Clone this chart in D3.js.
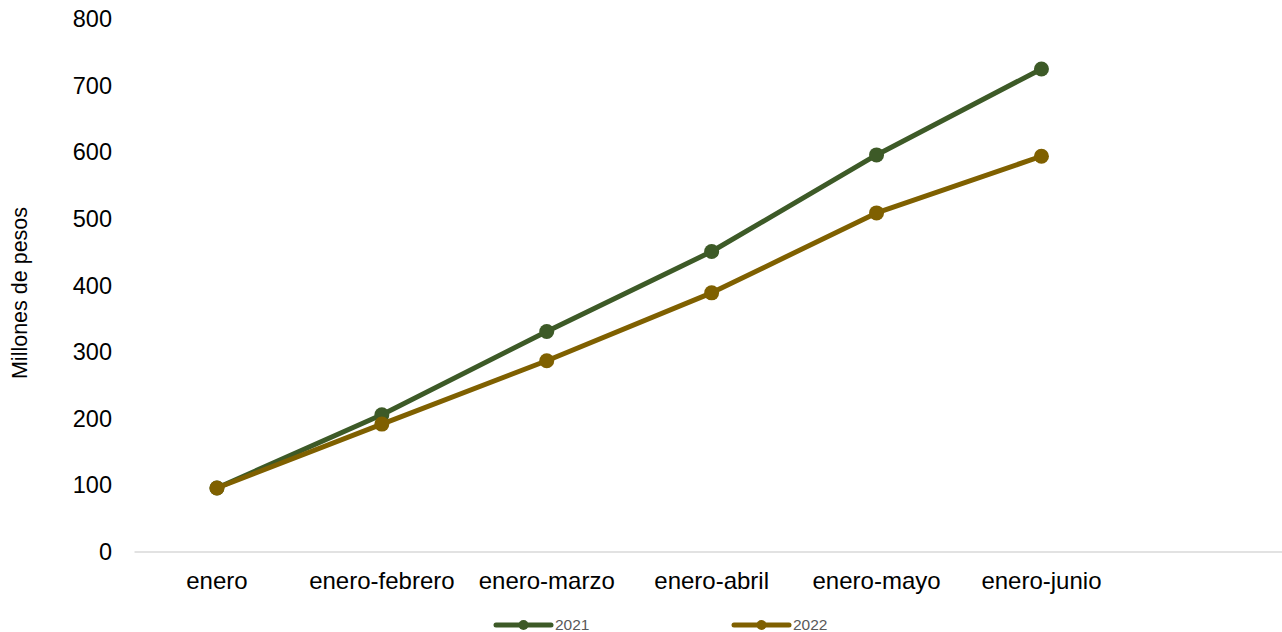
<!DOCTYPE html>
<html>
<head>
<meta charset="utf-8">
<script src="https://cdn.jsdelivr.net/npm/d3@7"></script>
<style>
  html, body { margin: 0; padding: 0; background: #fff; }
  svg { display: block; font-family: "Liberation Sans", Arial, sans-serif; }
</style>
</head>
<body>
<svg id="chart" width="1282" height="632"></svg>
<script>
const categories = ["enero", "enero-febrero", "enero-marzo", "enero-abril", "enero-mayo", "enero-junio"];
const series2021 = [96, 206, 331, 451, 596, 725];
const series2022 = [96, 192, 287, 389, 509, 594];
const seriesNames = ["2021", "2022"];
const seriesColors = ["#3d5a27", "#7f6000"];
const yTicks = [0, 100, 200, 300, 400, 500, 600, 700, 800];

const svg = d3.select("#chart");
const W = 1282, H = 632;
const plotLeft = 134.5, plotTop = 19, plotBottom = 552;
const step = 164.9;

const x = d3.scaleBand().domain(categories).range([plotLeft, plotLeft + step * categories.length]).padding(0);
const y = d3.scaleLinear().domain([0, 800]).range([plotBottom, plotTop]);

// baseline
svg.append("line")
  .attr("x1", plotLeft).attr("x2", W)
  .attr("y1", y(0)).attr("y2", y(0))
  .attr("stroke", "#d9d9d9").attr("stroke-width", 1.5);

// y axis labels
const yAxis = d3.axisLeft(y).tickValues(yTicks).tickSize(0).tickPadding(0);
const gy = svg.append("g").attr("transform", `translate(112,0)`).call(yAxis);
gy.select(".domain").remove();
gy.selectAll("text").attr("font-size", 23.5).attr("fill", "#000")
  .attr("font-family", "Liberation Sans, Arial, sans-serif");

// x axis labels
const xAxis = d3.axisBottom(x).tickSize(0).tickPadding(0);
const gx = svg.append("g").attr("transform", `translate(0,${plotBottom + 19.5})`).call(xAxis);
gx.select(".domain").remove();
gx.selectAll("text").attr("font-size", 24).attr("fill", "#000")
  .attr("font-family", "Liberation Sans, Arial, sans-serif");

// y title
svg.append("text")
  .attr("transform", `translate(27,293) rotate(-90)`)
  .attr("text-anchor", "middle")
  .attr("font-size", 21.5)
  .attr("fill", "#000")
  .text("Millones de pesos");

const allSeries = [series2021, series2022];
const line = d3.line()
  .x((d, i) => x(categories[i]) + x.bandwidth() / 2)
  .y(d => y(d));

allSeries.forEach((vals, si) => {
  svg.append("path")
    .datum(vals)
    .attr("d", line)
    .attr("fill", "none")
    .attr("stroke", seriesColors[si])
    .attr("stroke-width", 5)
    .attr("stroke-linejoin", "round")
    .attr("stroke-linecap", "round");
  svg.selectAll(null).data(vals).enter().append("circle")
    .attr("cx", (d, i) => x(categories[i]) + x.bandwidth() / 2)
    .attr("cy", d => y(d))
    .attr("r", 7.5)
    .attr("fill", seriesColors[si]);
});

// legend
const legendX = [496, 734];
seriesNames.forEach((name, i) => {
  const g = svg.append("g").attr("transform", `translate(${legendX[i]},625)`);
  g.append("line").attr("x1", 0).attr("x2", 55).attr("y1", 0).attr("y2", 0)
    .attr("stroke", seriesColors[i]).attr("stroke-width", 5).attr("stroke-linecap", "round");
  g.append("circle").attr("cx", 27.5).attr("cy", 0).attr("r", 5).attr("fill", seriesColors[i]);
  g.append("text").attr("x", 59).attr("y", 0).attr("dy", "0.35em")
    .attr("font-size", 15.5).attr("fill", "#595959").text(name);
});
</script>
</body>
</html>
